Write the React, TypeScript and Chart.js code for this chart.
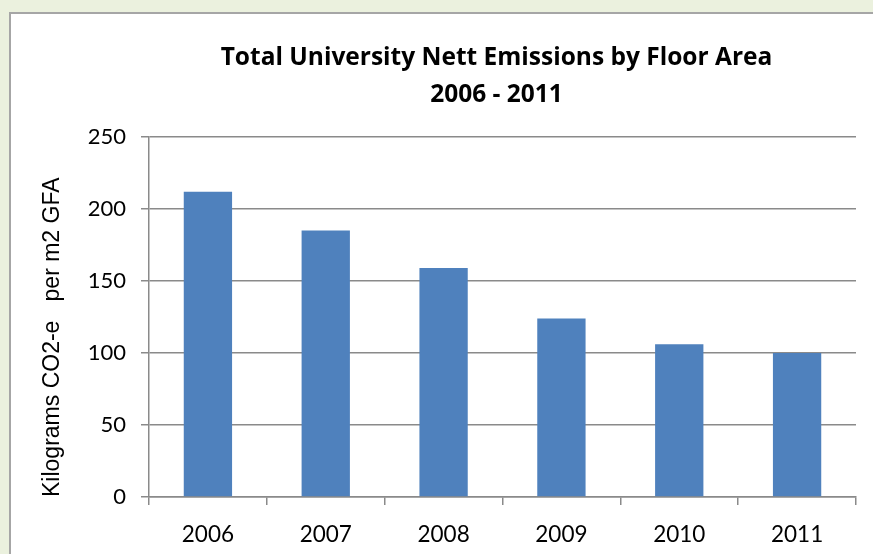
import { useEffect, useRef } from "react";
import { Chart, registerables } from "chart.js";

Chart.register(...registerables);

const years = ["2006", "2007", "2008", "2009", "2010", "2011"];
const emissions = [212, 185, 159, 124, 106, 100];
const titleLines = ["Total University Nett Emissions by Floor Area", "2006 - 2011"];
const yAxisLabel = "Kilograms CO2-e   per m2 GFA";
const yMin = 0;
const yMax = 250;
const yStep = 50;

export default function App() {
  const ref = useRef<HTMLCanvasElement>(null);

  useEffect(() => {
    const gridColor = "#8a8a8a";
    const yTitleSize = 23;
    const titleShift = {
      id: "titleShift",
      afterLayout(chart: any) {
        const t = chart.titleBlock;
        if (t) {
          t.left = 126;
        }
      },
    };
    const chart = new Chart(ref.current as HTMLCanvasElement, {
      type: "bar",
      data: {
        labels: years,
        datasets: [
          {
            data: emissions,
            backgroundColor: "#4F81BD",
            borderWidth: 0,
            categoryPercentage: 1,
            barPercentage: 0.41,
          },
        ],
      },
      plugins: [titleShift],
      options: {
        responsive: false,
        animation: false,
        layout: { padding: { left: 0, right: 17, top: 0, bottom: 0 } },
        plugins: {
          legend: { display: false },
          tooltip: { enabled: false },
          title: {
            display: true,
            text: titleLines,
            color: "#000",
            font: { family: "Open Sans", size: 24.5, weight: "bold", lineHeight: "37px" },
            padding: { top: 25.5, bottom: 23.5 },
          },
        },
        scales: {
          x: {
            offset: true,
            grid: {
              display: true,
              drawOnChartArea: false,
              drawTicks: true,
              tickLength: 8,
              color: gridColor,
              lineWidth: 1.5,
              offset: true,
            },
            border: { display: true, color: gridColor, width: 1.5 },
            ticks: {
              color: "#000",
              font: { family: "Lato", size: 22.5 },
              padding: 16,
              maxRotation: 0,
            },
            afterFit: (s: any) => {
              s.height = 57;
            },
          },
          y: {
            min: yMin,
            max: yMax,
            ticks: {
              stepSize: yStep,
              color: "#000",
              font: { family: "Lato", size: 22 },
              padding: 15,
            },
            grid: { color: gridColor, lineWidth: 1.5, tickLength: 8 },
            border: { display: true, color: gridColor, width: 1.5 },
            title: {
              display: true,
              text: yAxisLabel,
              align: "start",
              color: "#000",
              font: { family: "Liberation Sans", size: yTitleSize },
              padding: { top: 42 - (yTitleSize * 1.2) / 2, bottom: 0 },
            },
            afterFit: (s: any) => {
              s.width = 138;
            },
          },
        },
      },
    } as any);
    return () => chart.destroy();
  }, []);

  return (
    <div
      style={{
        position: "fixed",
        left: 0,
        top: 0,
        width: "100%",
        height: "100%",
        background: "#EBF1DE",
        overflow: "hidden",
      }}
    >
      <div
        style={{
          position: "absolute",
          left: 9,
          top: 12,
          width: 900,
          height: 600,
          border: "2px solid #A6A6A6",
          background: "#fff",
        }}
      >
        <canvas ref={ref} width={862} height={540} style={{ display: "block" }} />
      </div>
    </div>
  );
}
